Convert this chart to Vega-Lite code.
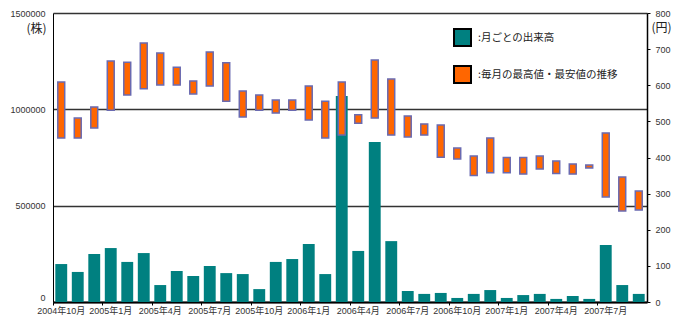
{
  "$schema": "https://vega.github.io/schema/vega-lite/v6.json",
  "width": 594,
  "height": 289,
  "autosize": {"type": "none"},
  "padding": {"left": 53, "top": 13, "right": 36, "bottom": 13},
  "config": {"view": {"stroke": null}, "font": "Liberation Sans, Noto Sans CJK JP"},
  "data": {"values": [
    {"month": "2004年10月", "volume": 197000, "low": 454, "high": 609},
    {"month": "2004年11月", "volume": 156000, "low": 454, "high": 509},
    {"month": "2004年12月", "volume": 249000, "low": 482, "high": 540},
    {"month": "2005年1月", "volume": 280000, "low": 531, "high": 667},
    {"month": "2005年2月", "volume": 208000, "low": 573, "high": 664},
    {"month": "2005年3月", "volume": 254000, "low": 590, "high": 717},
    {"month": "2005年4月", "volume": 88000, "low": 601, "high": 689},
    {"month": "2005年5月", "volume": 161000, "low": 601, "high": 650},
    {"month": "2005年6月", "volume": 135000, "low": 576, "high": 612},
    {"month": "2005年7月", "volume": 187000, "low": 598, "high": 692},
    {"month": "2005年8月", "volume": 150000, "low": 556, "high": 662},
    {"month": "2005年9月", "volume": 145000, "low": 512, "high": 584},
    {"month": "2005年10月", "volume": 67000, "low": 531, "high": 573},
    {"month": "2005年11月", "volume": 208000, "low": 523, "high": 559},
    {"month": "2005年12月", "volume": 223000, "low": 531, "high": 559},
    {"month": "2006年1月", "volume": 301000, "low": 504, "high": 598},
    {"month": "2006年2月", "volume": 145000, "low": 454, "high": 556},
    {"month": "2006年3月", "volume": 1069000, "low": 462, "high": 609},
    {"month": "2006年4月", "volume": 265000, "low": 495, "high": 518},
    {"month": "2006年5月", "volume": 830000, "low": 509, "high": 670},
    {"month": "2006年6月", "volume": 316000, "low": 462, "high": 617},
    {"month": "2006年7月", "volume": 57000, "low": 457, "high": 515},
    {"month": "2006年8月", "volume": 42000, "low": 462, "high": 493},
    {"month": "2006年9月", "volume": 47000, "low": 401, "high": 490},
    {"month": "2006年10月", "volume": 21000, "low": 396, "high": 426},
    {"month": "2006年11月", "volume": 42000, "low": 350, "high": 404},
    {"month": "2006年12月", "volume": 62000, "low": 358, "high": 454},
    {"month": "2007年1月", "volume": 21000, "low": 358, "high": 400},
    {"month": "2007年2月", "volume": 36000, "low": 354, "high": 400},
    {"month": "2007年3月", "volume": 42000, "low": 368, "high": 404},
    {"month": "2007年4月", "volume": 16000, "low": 356, "high": 390},
    {"month": "2007年5月", "volume": 31000, "low": 354, "high": 382},
    {"month": "2007年6月", "volume": 16000, "low": 371, "high": 379},
    {"month": "2007年7月", "volume": 296000, "low": 291, "high": 468},
    {"month": "2007年8月", "volume": 88000, "low": 252, "high": 346},
    {"month": "2007年9月", "volume": 42000, "low": 255, "high": 307}
  ]},
  "encoding": {
    "x": {
      "field": "month", "type": "ordinal", "sort": null,
      "scale": {"paddingInner": 0, "paddingOuter": 0},
      "axis": {
        "title": null,
        "values": ["2004年10月", "2005年1月", "2005年4月", "2005年7月", "2005年10月", "2006年1月", "2006年4月", "2006年7月", "2006年10月", "2007年1月", "2007年4月", "2007年7月"],
        "labelAngle": 0, "labelOverlap": false, "labelFontSize": 9, "labelColor": "#333",
        "labelBaseline": "top", "labelPadding": 1,
        "bandPosition": 0, "labelOffset": 0,
        "domainColor": "black", "domainWidth": 2,
        "tickColor": "black", "tickSize": 3, "tickWidth": 1
      }
    }
  },
  "layer": [
    {
      "mark": {"type": "bar", "width": {"band": 0.72}},
      "encoding": {
        "y": {
          "field": "volume", "type": "quantitative",
          "scale": {"domain": [0, 1500000], "nice": false},
          "axis": {
            "values": [0, 500000, 1000000, 1500000], "format": "d",
            "title": "(株)", "titleAngle": 0, "titleX": -17, "titleY": 15,
            "titleAlign": "center", "titleBaseline": "middle",
            "titleFontSize": 12, "titleFontWeight": "normal", "titleFont": "Noto Sans CJK JP", "titleColor": "#222",
            "ticks": false, "labelPadding": 8, "labelFontSize": 9, "labelColor": "#333", "labelOverlap": false,
            "labelBaseline": {"condition": {"test": "datum.value === 0", "value": "bottom"}, "value": "middle"},
            "domainColor": "black", "domainWidth": 1,
            "grid": true, "gridColor": "#333", "gridWidth": 1.5
          }
        },
        "color": {
          "datum": ":月ごとの出来高", "type": "nominal",
          "scale": {"domain": [":月ごとの出来高", ":毎月の最高値・最安値の推移"], "range": ["#008080", "#FF6600"]},
          "legend": {
            "orient": "none", "legendX": 400, "legendY": 15, "title": null, "padding": 0,
            "symbolType": "square", "symbolSize": 289, "symbolStrokeColor": "black", "symbolStrokeWidth": 2, "symbolOpacity": 1,
            "labelFontSize": 10.5, "labelFont": "Noto Sans CJK JP", "labelColor": "#222", "labelOffset": 6, "rowPadding": 12,
            "encode": {"symbols": {"update": {"stroke": {"value": "black"}, "strokeWidth": {"value": 2}}}}
          }
        }
      }
    },
    {
      "mark": {"type": "bar", "width": {"band": 0.42}, "stroke": "#6a6ab0", "strokeWidth": 1.5},
      "encoding": {
        "y": {
          "field": "low", "type": "quantitative",
          "scale": {"domain": [0, 800], "nice": false},
          "axis": {
            "orient": "right", "values": [0, 100, 200, 300, 400, 500, 600, 700, 800],
            "title": "(円)", "titleAngle": 0, "titleX": 14, "titleY": 14,
            "titleAlign": "center", "titleBaseline": "middle",
            "titleFontSize": 12, "titleFontWeight": "normal", "titleFont": "Noto Sans CJK JP", "titleColor": "#222",
            "tickSize": 3, "tickColor": "black", "labelPadding": 5, "labelFontSize": 9, "labelColor": "#333", "labelOverlap": false,
            "domainColor": "black", "domainWidth": 1.5, "grid": false
          }
        },
        "y2": {"field": "high"},
        "color": {"datum": ":毎月の最高値・最安値の推移", "type": "nominal"}
      }
    }
  ],
  "resolve": {"scale": {"y": "independent"}}
}
